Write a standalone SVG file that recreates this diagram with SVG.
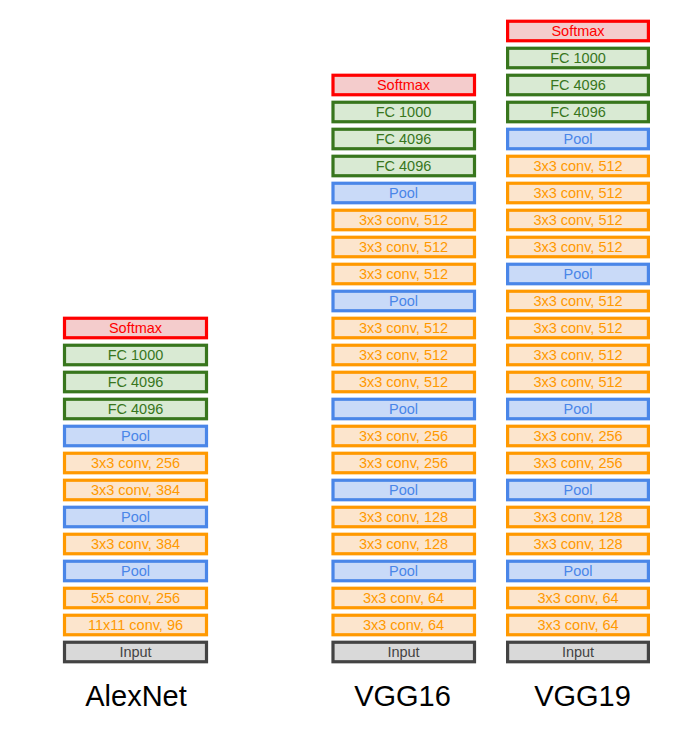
<svg xmlns="http://www.w3.org/2000/svg" width="682" height="734" viewBox="0 0 682 734">
<style>
rect{stroke-width:3.2px}
text{font-family:"Liberation Sans",Arial,sans-serif;font-size:14.5px;text-anchor:middle}
.sm rect{fill:#f4cccc;stroke:#ff0000}.sm text{fill:#ff0000}
.fc rect{fill:#d9ead3;stroke:#38761d}.fc text{fill:#38761d}
.pl rect{fill:#c9daf8;stroke:#4a86e8}.pl text{fill:#4a86e8}
.cv rect{fill:#fce5cd;stroke:#ff9900}.cv text{fill:#ff9900}
.in rect{fill:#d9d9d9;stroke:#434343}.in text{fill:#434343}
.title{font-size:29px;fill:#000}
.a rect{x:64.5px;width:142px;height:19.5px}.a text{transform:translateX(135.5px)}
.b rect{x:333px;width:141.5px;height:19.5px}.b text{transform:translateX(403.5px)}
.c rect{x:507.6px;width:140.8px;height:19.5px}.c text{transform:translateX(578px)}
</style>
<rect x="0" y="0" width="682" height="734" fill="#ffffff" style="stroke:none"/>
<g id="alexnet" class="a">
<g id="a-softmax" class="sm"><rect y="318.25"/><text y="333">Softmax</text></g>
<g id="a-fc1000" class="fc"><rect y="345.25"/><text y="360">FC 1000</text></g>
<g id="a-fc4096b" class="fc"><rect y="372.25"/><text y="387">FC 4096</text></g>
<g id="a-fc4096a" class="fc"><rect y="399.25"/><text y="414">FC 4096</text></g>
<g id="a-pool3" class="pl"><rect y="426.25"/><text y="441">Pool</text></g>
<g id="a-conv5" class="cv"><rect y="453.25"/><text y="468">3x3 conv, 256</text></g>
<g id="a-conv4" class="cv"><rect y="480.25"/><text y="495">3x3 conv, 384</text></g>
<g id="a-pool2" class="pl"><rect y="507.25"/><text y="522">Pool</text></g>
<g id="a-conv3" class="cv"><rect y="534.25"/><text y="549">3x3 conv, 384</text></g>
<g id="a-pool1" class="pl"><rect y="561.25"/><text y="576">Pool</text></g>
<g id="a-conv2" class="cv"><rect y="588.25"/><text y="603">5x5 conv, 256</text></g>
<g id="a-conv1" class="cv"><rect y="615.25"/><text y="630">11x11 conv, 96</text></g>
<g id="a-input" class="in"><rect y="642.25"/><text y="657">Input</text></g>
</g>
<g id="vgg16" class="b">
<g id="b-softmax" class="sm"><rect y="75.25"/><text y="90">Softmax</text></g>
<g id="b-fc1000" class="fc"><rect y="102.25"/><text y="117">FC 1000</text></g>
<g id="b-fc4096b" class="fc"><rect y="129.25"/><text y="144">FC 4096</text></g>
<g id="b-fc4096a" class="fc"><rect y="156.25"/><text y="171">FC 4096</text></g>
<g id="b-pool5" class="pl"><rect y="183.25"/><text y="198">Pool</text></g>
<g id="b-conv13" class="cv"><rect y="210.25"/><text y="225">3x3 conv, 512</text></g>
<g id="b-conv12" class="cv"><rect y="237.25"/><text y="252">3x3 conv, 512</text></g>
<g id="b-conv11" class="cv"><rect y="264.25"/><text y="279">3x3 conv, 512</text></g>
<g id="b-pool4" class="pl"><rect y="291.25"/><text y="306">Pool</text></g>
<g id="b-conv10" class="cv"><rect y="318.25"/><text y="333">3x3 conv, 512</text></g>
<g id="b-conv9" class="cv"><rect y="345.25"/><text y="360">3x3 conv, 512</text></g>
<g id="b-conv8" class="cv"><rect y="372.25"/><text y="387">3x3 conv, 512</text></g>
<g id="b-pool3" class="pl"><rect y="399.25"/><text y="414">Pool</text></g>
<g id="b-conv7" class="cv"><rect y="426.25"/><text y="441">3x3 conv, 256</text></g>
<g id="b-conv6" class="cv"><rect y="453.25"/><text y="468">3x3 conv, 256</text></g>
<g id="b-pool2" class="pl"><rect y="480.25"/><text y="495">Pool</text></g>
<g id="b-conv4" class="cv"><rect y="507.25"/><text y="522">3x3 conv, 128</text></g>
<g id="b-conv3" class="cv"><rect y="534.25"/><text y="549">3x3 conv, 128</text></g>
<g id="b-pool1" class="pl"><rect y="561.25"/><text y="576">Pool</text></g>
<g id="b-conv2" class="cv"><rect y="588.25"/><text y="603">3x3 conv, 64</text></g>
<g id="b-conv1" class="cv"><rect y="615.25"/><text y="630">3x3 conv, 64</text></g>
<g id="b-input" class="in"><rect y="642.25"/><text y="657">Input</text></g>
</g>
<g id="vgg19" class="c">
<g id="c-softmax" class="sm"><rect y="21.25"/><text y="36">Softmax</text></g>
<g id="c-fc1000" class="fc"><rect y="48.25"/><text y="63">FC 1000</text></g>
<g id="c-fc4096b" class="fc"><rect y="75.25"/><text y="90">FC 4096</text></g>
<g id="c-fc4096a" class="fc"><rect y="102.25"/><text y="117">FC 4096</text></g>
<g id="c-pool5" class="pl"><rect y="129.25"/><text y="144">Pool</text></g>
<g id="c-conv16" class="cv"><rect y="156.25"/><text y="171">3x3 conv, 512</text></g>
<g id="c-conv15" class="cv"><rect y="183.25"/><text y="198">3x3 conv, 512</text></g>
<g id="c-conv14" class="cv"><rect y="210.25"/><text y="225">3x3 conv, 512</text></g>
<g id="c-conv13" class="cv"><rect y="237.25"/><text y="252">3x3 conv, 512</text></g>
<g id="c-pool4" class="pl"><rect y="264.25"/><text y="279">Pool</text></g>
<g id="c-conv12" class="cv"><rect y="291.25"/><text y="306">3x3 conv, 512</text></g>
<g id="c-conv11" class="cv"><rect y="318.25"/><text y="333">3x3 conv, 512</text></g>
<g id="c-conv10" class="cv"><rect y="345.25"/><text y="360">3x3 conv, 512</text></g>
<g id="c-conv9" class="cv"><rect y="372.25"/><text y="387">3x3 conv, 512</text></g>
<g id="c-pool3" class="pl"><rect y="399.25"/><text y="414">Pool</text></g>
<g id="c-conv8" class="cv"><rect y="426.25"/><text y="441">3x3 conv, 256</text></g>
<g id="c-conv7" class="cv"><rect y="453.25"/><text y="468">3x3 conv, 256</text></g>
<g id="c-pool2" class="pl"><rect y="480.25"/><text y="495">Pool</text></g>
<g id="c-conv4" class="cv"><rect y="507.25"/><text y="522">3x3 conv, 128</text></g>
<g id="c-conv3" class="cv"><rect y="534.25"/><text y="549">3x3 conv, 128</text></g>
<g id="c-pool1" class="pl"><rect y="561.25"/><text y="576">Pool</text></g>
<g id="c-conv2" class="cv"><rect y="588.25"/><text y="603">3x3 conv, 64</text></g>
<g id="c-conv1" class="cv"><rect y="615.25"/><text y="630">3x3 conv, 64</text></g>
<g id="c-input" class="in"><rect y="642.25"/><text y="657">Input</text></g>
</g>
<g id="titles">
<text class="title" x="136" y="706">AlexNet</text>
<text class="title" x="402.5" y="706">VGG16</text>
<text class="title" x="582.5" y="706">VGG19</text>
</g>
<g id="connectors"></g>
</svg>
